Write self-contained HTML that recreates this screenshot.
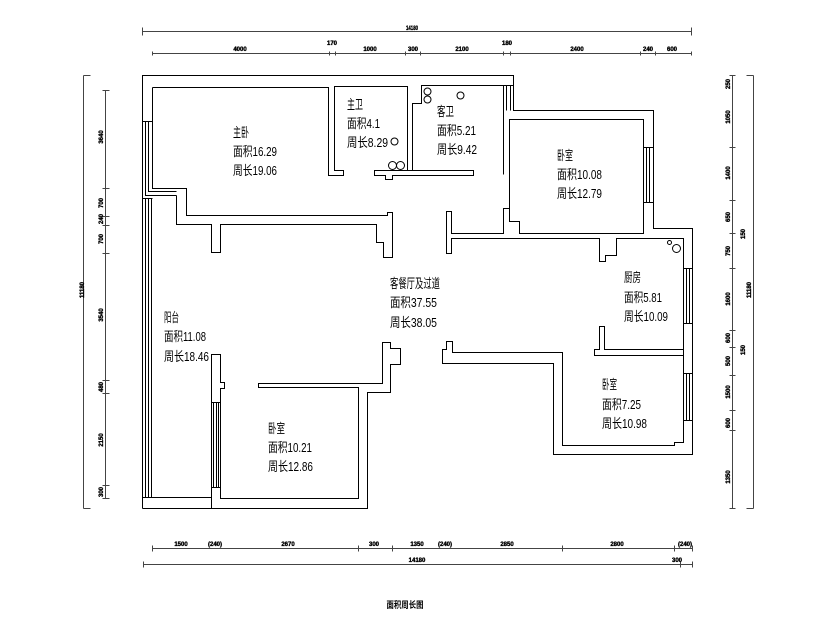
<!DOCTYPE html>
<html><head><meta charset="utf-8"><style>
html,body{margin:0;padding:0;background:#fff;}
svg{display:block;}
.w{fill:none;stroke:#000;stroke-width:1;}
.d{fill:none;stroke:#444;stroke-width:1;}
.t{font-family:"Liberation Sans","Noto Sans CJK SC",sans-serif;font-size:13px;fill:#000;}
.s{font-family:"Liberation Sans",sans-serif;font-size:6px;font-weight:bold;fill:#000;stroke:#000;stroke-width:0.35;}
.ti{font-family:"Liberation Sans","Noto Sans CJK SC",sans-serif;font-size:9px;font-weight:bold;fill:#000;}
</style></head><body>
<svg width="835" height="621" viewBox="0 0 835 621" xmlns="http://www.w3.org/2000/svg">
<rect width="835" height="621" fill="#fff"/>
<g transform="translate(0.5,0.5)">
<!-- walls -->
<path class="w" d="M142,508 L142,75 L513,75 L513,110 L653,110 L653,228 L692,228 L692,454 L553,454 L553,363 L442,363 L442,349 L446,349 L446,341 L452,341 L452,352 L562,352 L562,445 L674,445 L674,442 L683,442 L683,355 L594,355 L594,349 L599,349 L599,326 L604,326 L604,349 L683,349 L683,238 L616,238 L616,255 L605,255 L605,261 L599,261 L599,238 L451,238 L451,253 L446,253 L446,211 L451,211 L451,233 L503,233 L503,208 L509,208"/>
<path class="w" d="M683,349 L683,355"/>
<path class="w" d="M142,508 L367,508 L367,392 L390,392 L390,364 L400,364 L400,348 L390,348 L390,342 L382,342 L382,383 L258,383 L258,387 L358,387 L358,498 L220,498 L220,388 L224,388 L224,382 L220,382 L220,354 L211,354 L211,508"/>
<path class="w" d="M142,497 L211,497"/>
<!-- balcony window lines -->
<path class="w" d="M145,198 L145,497 M148,198 L148,497 M151,198 L151,497 M142,198 L152,198"/>
<!-- bedroom 10.21 window -->
<path class="w" d="M213,402 L213,487 M216,402 L216,487 M218,402 L218,487 M211,402 L220,402 M211,487 L220,487"/>
<!-- master bedroom -->
<path class="w" d="M152,87 L328,87 L328,175 L343,175 L343,170 L334,170 L334,86 L407,86 L407,170"/>
<path class="w" d="M152,87 L152,188 L186,188 L186,215 L387,215 L387,212 L392,212 L392,257 L383,257 L383,242 L376,242 L376,224 L220,224 L220,252 L211,252 L211,224 L176,224 L176,195"/>
<path class="w" d="M142,121 L152,121 M145,121 L145,195 L176,195 M148,121 L148,191 L176,191"/>
<!-- baths -->
<path class="w" d="M374,170 L473,170 L473,175 L392,175 L392,179 L385,179 L385,175 L374,175 Z"/>
<path class="w" d="M412,170 L412,103 L421,103 L421,85 L503,85 L503,174"/>
<path class="w" d="M503,85 L513,85 M506,85 L506,110 M510,85 L510,110"/>
<circle class="w" cx="394" cy="141" r="3.5"/>
<circle class="w" cx="392" cy="165" r="4"/>
<circle class="w" cx="400" cy="165" r="4"/>
<circle class="w" cx="427" cy="91" r="3.5"/>
<circle class="w" cx="427" cy="99" r="3.5"/>
<circle class="w" cx="460" cy="95" r="3.5"/>
<!-- bedroom 10.08 -->
<path class="w" d="M509,119 L643,119 L643,233 L519,233 L519,221 L509,221 Z"/>
<path class="w" d="M643,147 L653,147 M643,202 L653,202 M646,147 L646,202 M649,147 L649,202"/>
<!-- kitchen -->
<path class="w" d="M683,268 L692,268 M683,323 L692,323 M686,268 L686,323 M689,268 L689,323"/>
<circle class="w" cx="669" cy="242" r="2"/>
<circle class="w" cx="676" cy="248" r="4"/>
<!-- bedroom 7.25 window -->
<path class="w" d="M683,373 L692,373 M683,420 L692,420 M686,373 L686,420 M689,373 L689,420"/>

<!-- top dims -->
<path class="d" d="M142,31 L691,31 M142,27 L142,35 M691,27 L691,35"/>
<path class="d" d="M152,53 L691,53 M152,51 L152,55 M329,51 L329,55 M335,51 L335,55 M405,51 L405,55 M420,51 L420,55 M503,51 L503,55 M510,51 L510,55 M640,51 L640,55 M655,51 L655,55 M691,51 L691,55"/>
<!-- left dims -->
<path class="d" d="M83,75 L83,508 M83,75 L90,75 M83,508 L90,508"/>
<path class="d" d="M105,90 L105,498 M102,90 L109,90 M102,188 L109,188 M102,216 L109,216 M102,225 L109,225 M102,253 L109,253 M102,380 L109,380 M102,393 L109,393 M102,485 L109,485 M102,498 L109,498"/>
<!-- right dims -->
<path class="d" d="M732,75 L732,508 M729,75 L735,75 M729,147 L735,147 M729,200 L735,200 M729,233 L735,233 M729,268 L735,268 M729,330 L735,330 M729,347 L735,347 M729,375 L735,375 M729,410 L735,410 M729,430 L735,430 M729,508 L735,508"/>
<path class="d" d="M753,75 L753,508 M746,75 L753,75 M746,508 L753,508"/>
<!-- bottom dims -->
<path class="d" d="M152,548 L692,548 M152,545 L152,551 M358,545 L358,551 M392,545 L392,551 M562,545 L562,551 M674,545 L674,551 M692,545 L692,551"/>
<path class="d" d="M143,564 L692,564 M143,561 L143,567 M680,561 L680,567 M692,561 L692,567"/>
</g>

<!-- dim labels -->
<g class="s">
<text x="412" y="30" text-anchor="middle" textLength="12" lengthAdjust="spacingAndGlyphs">14180</text>
<text x="240" y="51" text-anchor="middle">4000</text>
<text x="332" y="45" text-anchor="middle">170</text>
<text x="370" y="51" text-anchor="middle">1000</text>
<text x="413" y="51" text-anchor="middle">300</text>
<text x="462" y="51" text-anchor="middle">2100</text>
<text x="507" y="45" text-anchor="middle">180</text>
<text x="577" y="51" text-anchor="middle">2400</text>
<text x="648" y="51" text-anchor="middle">240</text>
<text x="672" y="51" text-anchor="middle">600</text>

<text x="181" y="546" text-anchor="middle">1500</text>
<text x="215" y="546" text-anchor="middle">(240)</text>
<text x="288" y="546" text-anchor="middle">2670</text>
<text x="374" y="546" text-anchor="middle">300</text>
<text x="417" y="546" text-anchor="middle">1350</text>
<text x="445" y="546" text-anchor="middle">(240)</text>
<text x="507" y="546" text-anchor="middle">2850</text>
<text x="617" y="546" text-anchor="middle">2800</text>
<text x="685" y="546" text-anchor="middle">(240)</text>
<text x="417" y="562" text-anchor="middle">14180</text>
<text x="677" y="562" text-anchor="middle">300</text>

<text transform="translate(84,290) rotate(-90)" text-anchor="middle">11180</text>
<text transform="translate(103,137) rotate(-90)" text-anchor="middle">3640</text>
<text transform="translate(103,203) rotate(-90)" text-anchor="middle">700</text>
<text transform="translate(103,219) rotate(-90)" text-anchor="middle">240</text>
<text transform="translate(103,239) rotate(-90)" text-anchor="middle">700</text>
<text transform="translate(103,315) rotate(-90)" text-anchor="middle">3540</text>
<text transform="translate(103,387) rotate(-90)" text-anchor="middle">480</text>
<text transform="translate(103,440) rotate(-90)" text-anchor="middle">2150</text>
<text transform="translate(103,492) rotate(-90)" text-anchor="middle">300</text>

<text transform="translate(730,84) rotate(-90)" text-anchor="middle">250</text>
<text transform="translate(730,117) rotate(-90)" text-anchor="middle">1050</text>
<text transform="translate(730,173) rotate(-90)" text-anchor="middle">1400</text>
<text transform="translate(730,217) rotate(-90)" text-anchor="middle">650</text>
<text transform="translate(730,251) rotate(-90)" text-anchor="middle">750</text>
<text transform="translate(730,299) rotate(-90)" text-anchor="middle">1600</text>
<text transform="translate(730,338) rotate(-90)" text-anchor="middle">600</text>
<text transform="translate(730,361) rotate(-90)" text-anchor="middle">500</text>
<text transform="translate(730,392) rotate(-90)" text-anchor="middle">1500</text>
<text transform="translate(730,423) rotate(-90)" text-anchor="middle">600</text>
<text transform="translate(730,477) rotate(-90)" text-anchor="middle">1350</text>
<text transform="translate(745,234) rotate(-90)" text-anchor="middle">150</text>
<text transform="translate(745,350) rotate(-90)" text-anchor="middle">150</text>
<text transform="translate(751,290) rotate(-90)" text-anchor="middle">11180</text>
</g>

<!-- room labels -->
<g class="t">
<text x="233" y="137" textLength="16" lengthAdjust="spacingAndGlyphs">主卧</text>
<text x="233" y="156" textLength="44" lengthAdjust="spacingAndGlyphs">面积16.29</text>
<text x="233" y="175" textLength="44" lengthAdjust="spacingAndGlyphs">周长19.06</text>

<text x="347" y="109" textLength="16" lengthAdjust="spacingAndGlyphs">主卫</text>
<text x="347" y="128" textLength="33" lengthAdjust="spacingAndGlyphs">面积4.1</text>
<text x="347" y="147" textLength="41" lengthAdjust="spacingAndGlyphs">周长8.29</text>

<text x="437" y="116" textLength="17" lengthAdjust="spacingAndGlyphs">客卫</text>
<text x="437" y="135" textLength="39" lengthAdjust="spacingAndGlyphs">面积5.21</text>
<text x="437" y="154" textLength="40" lengthAdjust="spacingAndGlyphs">周长9.42</text>

<text x="557" y="160" textLength="16" lengthAdjust="spacingAndGlyphs">卧室</text>
<text x="557" y="179" textLength="45" lengthAdjust="spacingAndGlyphs">面积10.08</text>
<text x="557" y="198" textLength="45" lengthAdjust="spacingAndGlyphs">周长12.79</text>

<text x="390" y="288" textLength="50" lengthAdjust="spacingAndGlyphs">客餐厅及过道</text>
<text x="390" y="307" textLength="47" lengthAdjust="spacingAndGlyphs">面积37.55</text>
<text x="390" y="327" textLength="47" lengthAdjust="spacingAndGlyphs">周长38.05</text>

<text x="624" y="282" textLength="17" lengthAdjust="spacingAndGlyphs">厨房</text>
<text x="624" y="302" textLength="38" lengthAdjust="spacingAndGlyphs">面积5.81</text>
<text x="624" y="321" textLength="44" lengthAdjust="spacingAndGlyphs">周长10.09</text>

<text x="164" y="322" textLength="15" lengthAdjust="spacingAndGlyphs">阳台</text>
<text x="164" y="341" textLength="42" lengthAdjust="spacingAndGlyphs">面积11.08</text>
<text x="164" y="361" textLength="45" lengthAdjust="spacingAndGlyphs">周长18.46</text>

<text x="268" y="433" textLength="17" lengthAdjust="spacingAndGlyphs">卧室</text>
<text x="268" y="452" textLength="44" lengthAdjust="spacingAndGlyphs">面积10.21</text>
<text x="268" y="471" textLength="45" lengthAdjust="spacingAndGlyphs">周长12.86</text>

<text x="602" y="389" textLength="15" lengthAdjust="spacingAndGlyphs">卧室</text>
<text x="602" y="409" textLength="39" lengthAdjust="spacingAndGlyphs">面积7.25</text>
<text x="602" y="428" textLength="45" lengthAdjust="spacingAndGlyphs">周长10.98</text>
</g>

<text class="ti" x="405" y="608" text-anchor="middle" textLength="37" lengthAdjust="spacingAndGlyphs">面积周长图</text>
</svg>
</body></html>
